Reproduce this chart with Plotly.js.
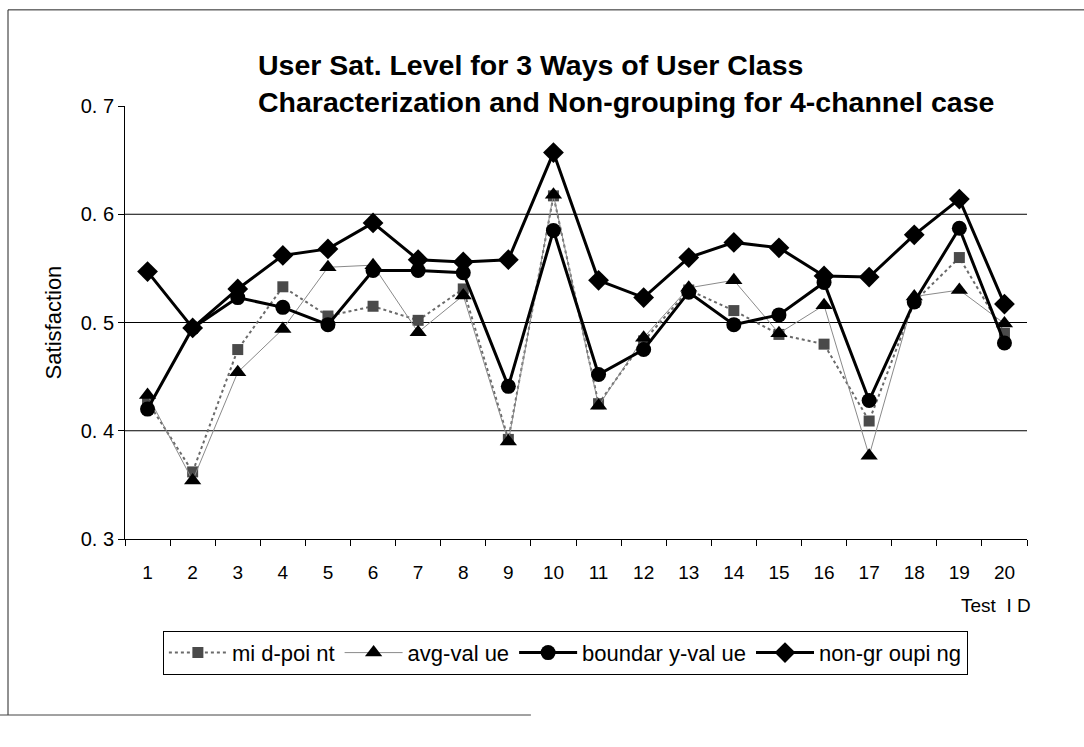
<!DOCTYPE html>
<html>
<head>
<meta charset="utf-8">
<script src="https://cdn.plot.ly/plotly-3.0.1.min.js"></script>
<style>
html, body { margin: 0; padding: 0; background: #ffffff; }
#chart { width: 1084px; height: 747px; }
</style>
</head>
<body>
<div id="chart"></div>
<script>
const testIds = ["1","2","3","4","5","6","7","8","9","10","11","12","13","14","15","16","17","18","19","20"];
const midPoint = [0.427,0.362,0.475,0.533,0.506,0.515,0.502,0.531,0.392,0.617,0.425,0.483,0.530,0.511,0.489,0.480,0.409,0.519,0.560,0.490];
const avgValue = [0.433,0.354,0.454,0.494,0.551,0.553,0.491,0.525,0.390,0.618,0.423,0.486,0.532,0.539,0.490,0.516,0.377,0.524,0.530,0.499];
const boundaryValue = [0.420,0.495,0.523,0.514,0.498,0.548,0.548,0.546,0.441,0.585,0.452,0.475,0.528,0.498,0.507,0.537,0.428,0.519,0.587,0.481];
const nonGrouping = [0.547,0.495,0.531,0.562,0.568,0.592,0.558,0.556,0.558,0.657,0.539,0.523,0.560,0.574,0.569,0.543,0.542,0.581,0.614,0.517];
const seriesNames = ["mi d-poi nt","avg-val ue","boundar y-val ue","non-gr oupi ng"];
const yTickVals = [0.3,0.4,0.5,0.6,0.7];
const yTickText = ["0. 3","0. 4","0. 5","0. 6","0. 7"];
const gridVals = [0.4,0.5,0.6];

const traces = [
  {x: testIds, y: midPoint, name: seriesNames[0], type: "scatter", mode: "lines+markers",
   line: {color: "#6a6a6a", width: 2, dash: "dot"},
   marker: {symbol: "square", size: 11, color: "#4a4a4a"}},
  {x: testIds, y: avgValue, name: seriesNames[1], type: "scatter", mode: "lines+markers",
   line: {color: "#8a8a8a", width: 1},
   marker: {symbol: "triangle-up", size: 15, color: "#000000"}},
  {x: testIds, y: boundaryValue, name: seriesNames[2], type: "scatter", mode: "lines+markers",
   line: {color: "#000000", width: 3},
   marker: {symbol: "circle", size: 15, color: "#000000"}},
  {x: testIds, y: nonGrouping, name: seriesNames[3], type: "scatter", mode: "lines+markers",
   line: {color: "#000000", width: 3},
   marker: {symbol: "diamond", size: 16, color: "#000000"}}
];

const shapes = gridVals.map(v => ({type: "line", xref: "paper", x0: 0, x1: 1, yref: "y", y0: v, y1: v,
  line: {color: "#000000", width: 1}, layer: "below"}));
// outer frame of the scanned chart
shapes.push({type: "line", xref: "paper", yref: "paper", x0: -0.1297, x1: 1.07, y0: 1.222, y1: 1.222, line: {color: "#222", width: 1}});
shapes.push({type: "line", xref: "paper", yref: "paper", x0: -0.1297, x1: -0.1297, y0: 1.222, y1: -0.4065, line: {color: "#222", width: 1}});
shapes.push({type: "line", xref: "paper", yref: "paper", x0: -0.14, x1: 0.45, y0: -0.4065, y1: -0.4065, line: {color: "#444", width: 1}});

const layout = {
  width: 1084, height: 747,
  margin: {l: 125, r: 57, t: 106, b: 208},
  paper_bgcolor: "#ffffff", plot_bgcolor: "#ffffff",
  font: {family: "Arial, 'Liberation Sans', sans-serif", color: "#000000"},
  title: {
    text: "User Sat. Level for 3 Ways of User Class<br>Characterization and Non-grouping for 4-channel case",
    xref: "container", yref: "container", x: 0.238, xanchor: "left", y: 0.9, yanchor: "top",
    font: {family: "Arial, 'Liberation Sans', sans-serif", size: 28.5, color: "#000000", weight: "bold"}
  },
  xaxis: {
    type: "category", range: [-0.5, 19.5], tickson: "boundaries", ticks: "outside", ticklen: 6, tickcolor: "#000",
    showline: true, linecolor: "#000", linewidth: 1, showgrid: false, zeroline: false,
    tickfont: {size: 19}, ticklabelstandoff: 16, fixedrange: true
  },
  yaxis: {
    range: [0.3, 0.7], tickvals: yTickVals, ticktext: yTickText, ticks: "outside", ticklen: 6, tickcolor: "#000",
    showline: true, linecolor: "#000", linewidth: 1, showgrid: false, zeroline: false,
    tickfont: {size: 20}, title: {text: "Satisfaction", font: {size: 22}, standoff: 12}
  },
  showlegend: true,
  legend: {
    orientation: "h", x: 0.042, xanchor: "left", y: -0.212, yanchor: "top",
    bordercolor: "#000", borderwidth: 1, font: {size: 22}, traceorder: "normal", itemwidth: 58
  },
  shapes: shapes,
  annotations: [
    {text: "Test  I D", xref: "paper", yref: "paper", x: 1.007, y: -0.125, xanchor: "right", yanchor: "top",
     showarrow: false, font: {size: 19}}
  ]
};

Plotly.newPlot("chart", traces, layout, {displayModeBar: false, staticPlot: true});
</script>
</body>
</html>
